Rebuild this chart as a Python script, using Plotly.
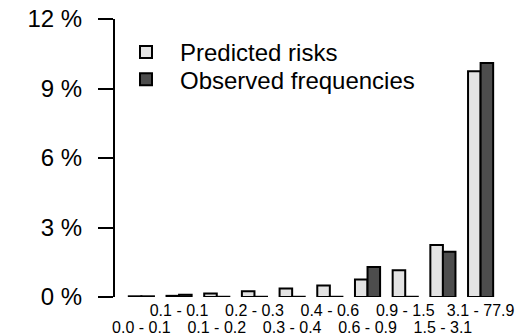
import plotly.graph_objects as go

categories = ["0.0 - 0.1", "0.1 - 0.1", "0.1 - 0.2", "0.2 - 0.3", "0.3 - 0.4",
              "0.4 - 0.6", "0.6 - 0.9", "0.9 - 1.5", "1.5 - 3.1", "3.1 - 77.9"]
predicted = [0.03, 0.05, 0.15, 0.25, 0.37, 0.50, 0.76, 1.16, 2.24, 9.75]
observed = [0.03, 0.10, 0.01, 0.01, 0.01, 0.01, 1.29, 0.01, 1.95, 10.10]
y_ticks = [0, 3, 6, 9, 12]
y_tick_labels = ["0 %", "3 %", "6 %", "9 %", "12 %"]

x_idx = list(range(len(categories)))
# labels alternate between two rows: odd categories top row, even bottom row
top_idx = [i for i in x_idx if i % 2 == 1]
bottom_idx = [i for i in x_idx if i % 2 == 0]

fig = go.Figure()
fig.add_trace(go.Bar(x=x_idx, y=predicted, name="Predicted risks", legend="legend",
                     marker=dict(color="#e3e3e3", line=dict(color="black", width=2))))
fig.add_trace(go.Bar(x=x_idx, y=observed, name="Observed frequencies", legend="legend2",
                     marker=dict(color="#4d4d4d", line=dict(color="black", width=2))))
# empty helper trace so the second label row axis is drawn
fig.add_trace(go.Scatter(x=[], y=[], xaxis="x2", yaxis="y", showlegend=False,
                         hoverinfo="skip"))

xr = [-0.70, 9.78]
leg_common = dict(x=-0.0076, xanchor="left", yanchor="middle",
                  bgcolor="rgba(0,0,0,0)", font=dict(size=24), itemwidth=58)

fig.update_layout(
    width=530, height=336,
    margin=dict(l=115, r=20, t=19, b=39),
    paper_bgcolor="white", plot_bgcolor="white",
    barmode="group", bargap=1/3, bargroupgap=0,
    font=dict(family="Liberation Sans, Arial, sans-serif", color="black"),
    showlegend=True,
    legend=dict(y=0.880, **leg_common),
    legend2=dict(y=0.782, **leg_common),
    xaxis=dict(range=xr, tickmode="array", tickvals=top_idx,
               ticktext=[categories[i] for i in top_idx], showline=False,
               showgrid=False, zeroline=False, ticks="", tickfont=dict(size=16),
               tickangle=0, automargin=False, ticklabelstandoff=2),
    xaxis2=dict(range=xr, overlaying="x", anchor="y", side="bottom",
                tickmode="array", tickvals=bottom_idx,
                ticktext=[categories[i] for i in bottom_idx], showline=False,
                showgrid=False, zeroline=False, ticks="", tickfont=dict(size=16),
                tickangle=0, automargin=False, ticklabelstandoff=19),
    yaxis=dict(range=[0, 12], tickmode="array", tickvals=y_ticks,
               ticktext=y_tick_labels, showline=True, linecolor="black",
               linewidth=2, ticks="outside", ticklen=15, tickwidth=2,
               tickcolor="black", showgrid=False, zeroline=False,
               tickfont=dict(size=24), ticklabelstandoff=11,
               automargin=False),
)

fig.write_html("out.html")
